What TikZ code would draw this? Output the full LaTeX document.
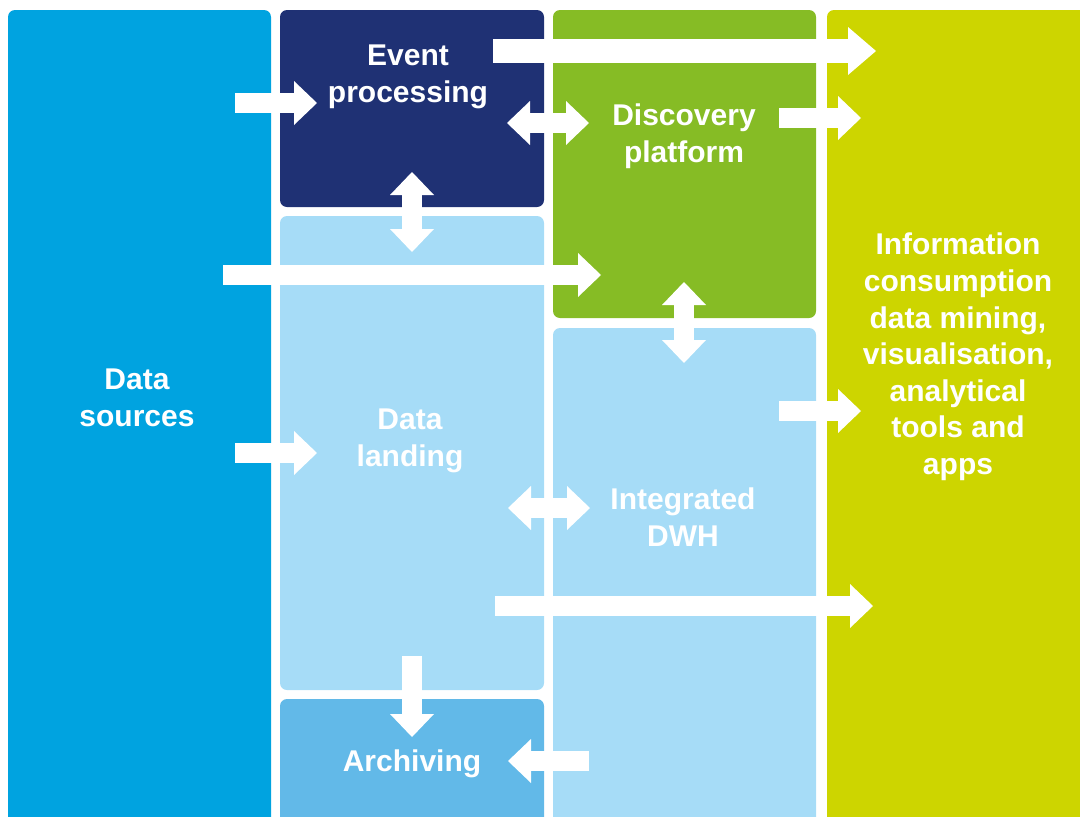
\documentclass[tikz,border=0pt]{standalone}
\usepackage{fontspec}
\setmainfont{Liberation Sans}
\usetikzlibrary{arrows.meta}
\definecolor{srcblue}{HTML}{00A3E0}
\definecolor{navy}{HTML}{1F3174}
\definecolor{paleblue}{HTML}{A6DCF7}
\definecolor{midblue}{HTML}{62B9E8}
\definecolor{leaf}{HTML}{86BC25}
\definecolor{lime}{HTML}{CDD500}

\begin{document}
\begin{tikzpicture}[x=1pt,y=-1pt,
  box/.style={draw=none, rounded corners=7pt, anchor=north west, inner sep=0pt, outer sep=0pt},
  lbl/.style={text=white, font=\bfseries\fontsize{30}{36.6}\selectfont, align=center, inner sep=0pt},
  flow/.style={draw=white, line width=20pt, -{Triangle[length=23pt,width=44pt,line width=0pt]}},
  flowboth/.style={draw=white, line width=20pt, {Triangle[length=23pt,width=44pt,line width=0pt]}-{Triangle[length=23pt,width=44pt,line width=0pt]}},
]
\useasboundingbox (0,0) rectangle (1080,817);
\clip (0,0) rectangle (1080,817);

% building blocks
\node[box, fill=srcblue,   minimum width=263pt, minimum height=830pt] (src)  at (8,10)    {};
\node[box, fill=navy,      minimum width=264pt, minimum height=197pt] (evt)  at (280,10)  {};
\node[box, fill=paleblue,  minimum width=264pt, minimum height=474pt] (land) at (280,216) {};
\node[box, fill=midblue,   minimum width=264pt, minimum height=140pt] (arch) at (280,699) {};
\node[box, fill=leaf,      minimum width=263pt, minimum height=308pt] (disc) at (553,10)  {};
\node[box, fill=paleblue,  minimum width=263pt, minimum height=510pt] (dwh)  at (553,328) {};
\node[box, fill=lime,      minimum width=270pt, minimum height=830pt] (info) at (827,10)  {};

% arrow end points
\coordinate (evtOutS)  at (493,51);  \coordinate (evtOutE)  at (876,51);
\coordinate (srcEvtS)  at (235,103); \coordinate (srcEvtE)  at (317,103);
\coordinate (evtDiscA) at (507,123); \coordinate (evtDiscB) at (589,123);
\coordinate (discOutS) at (779,118); \coordinate (discOutE) at (861,118);
\coordinate (evtLandA) at (412,172); \coordinate (evtLandB) at (412,252);
\coordinate (srcDiscS) at (223,275); \coordinate (srcDiscE) at (601,275);
\coordinate (discDwhA) at (684,282); \coordinate (discDwhB) at (684,363);
\coordinate (dwhOutS)  at (779,411); \coordinate (dwhOutE)  at (861,411);
\coordinate (srcLandS) at (235,453); \coordinate (srcLandE) at (317,453);
\coordinate (landDwhA) at (508,508); \coordinate (landDwhB) at (590,508);
\coordinate (landOutS) at (495,606); \coordinate (landOutE) at (873,606);
\coordinate (landArcS) at (412,656); \coordinate (landArcE) at (412,737);
\coordinate (dwhArcS)  at (589,761); \coordinate (dwhArcE)  at (508,761);

% flows
\draw[flow, line width=24pt, -{Triangle[length=28pt,width=48pt,line width=0pt]}] (evtOutS) -- (evtOutE);
\draw[flow] (srcEvtS) -- (srcEvtE);
\draw[flowboth] (evtDiscA) -- (evtDiscB);
\draw[flow] (discOutS) -- (discOutE);
\draw[flowboth] (evtLandA) -- (evtLandB);
\draw[flow] (srcDiscS) -- (srcDiscE);
\draw[flowboth] (discDwhA) -- (discDwhB);
\draw[flow] (dwhOutS) -- (dwhOutE);
\draw[flow] (srcLandS) -- (srcLandE);
\draw[flowboth] (landDwhA) -- (landDwhB);
\draw[flow] (landOutS) -- (landOutE);
\draw[flow] (landArcS) -- (landArcE);
\draw[flow] (dwhArcS) -- (dwhArcE);

% labels
\node[lbl] (srcT)  at (137,398) {Data\\sources};
\node[lbl] (evtT)  at (408,77)  {Event\\processing};
\node[lbl] (landT) at (410,441) {Data\\landing};
\node[lbl] (arcT)  at (412,764) {Archiving};
\node[lbl] (discT) at (684,136) {Discovery\\platform};
\node[lbl] (dwhT)  at (683,517) {Integrated\\DWH};
\node[lbl] (infoT) at (958,357) {Information\\consumption\\data mining,\\visualisation,\\analytical\\tools and\\apps};
\end{tikzpicture}
\end{document}
